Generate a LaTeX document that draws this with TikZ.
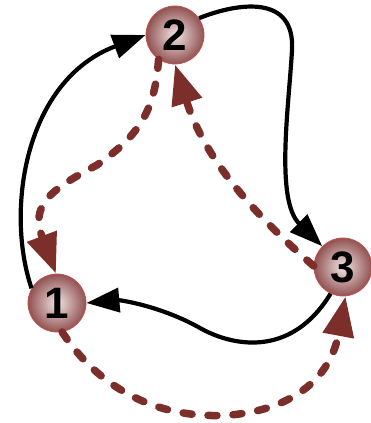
\documentclass[tikz,border=0pt]{standalone}
\usepackage{fontspec}
\setmainfont{Liberation Sans}
\usetikzlibrary{arrows.meta}
\definecolor{darkred}{RGB}{123,46,42}
\definecolor{ballout}{RGB}{145,82,82}
\definecolor{ballin}{RGB}{242,228,228}
\definecolor{ballrim}{RGB}{196,80,72}
\tikzstyle{ball} = [circle, minimum size=58pt, inner sep=0pt, draw=ballrim, line width=0.8pt, inner color=ballin, outer color=ballout, font=\fontsize{44}{44}\bfseries]
\tikzstyle{arrow} = [line width=4.2pt, -{Triangle[length=33pt,width=24pt]}]
\tikzstyle{darrow} = [line width=7.5pt, darkred, line cap=round, dash pattern=on 9pt off 16pt, -{Triangle[length=40pt,width=30pt,line cap=butt]}]

\begin{document}
\begin{tikzpicture}[x=1pt, y=-1pt]
    \useasboundingbox (0,0) rectangle (371,423);

    \node (n1) [ball] at (57,303) {1};
    \node (n2) [ball] at (175,35) {2};
    \node (n3) [ball] at (343,267) {3};

    \draw [arrow] (n1.150) .. controls (5,210) and (25,80) .. (n2.180);
    \draw [arrow] (n2.35) .. controls (240,2) and (295,-5) .. (292,50)
        .. controls (289,105) and (275,200) .. (n3.135);
    \draw [arrow] (n3.245) .. controls (290,360) and (230,345) .. (200,328)
        .. controls (161,306) and (120,300) .. (n1.0);

    \draw [darrow] (n2.236) .. controls (155,110) and (140,135) .. (97,165)
        .. controls (50,190) and (30,205) .. (n1.92);
    \draw [darrow] (n3.178) .. controls (255,215) and (205,160) .. (n2.270);
    \draw [darrow] (n1.280) .. controls (100,390) and (160,420) .. (230,415)
        .. controls (290,410) and (330,380) .. (n3.275);

\end{tikzpicture}
\end{document}
